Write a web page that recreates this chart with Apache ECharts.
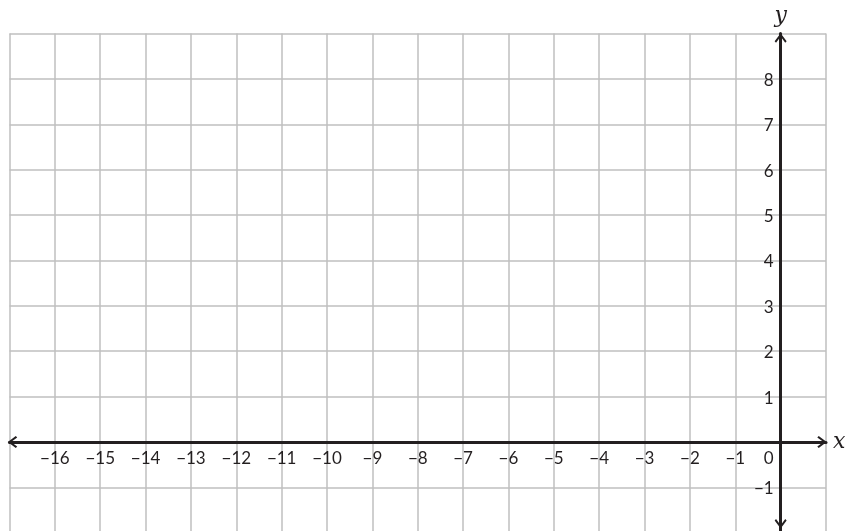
<!DOCTYPE html>
<html>
<head>
<meta charset="utf-8">
<script src="https://cdn.jsdelivr.net/npm/echarts@6/dist/echarts.min.js"></script>
<style>
  html, body { margin: 0; padding: 0; background: #fff; }
  #main { width: 849px; height: 531px; }
</style>
</head>
<body>
<div id="main"></div>
<script>
    // axis ranges (grid squares of one unit)
    const xRange = [-17, 1];
    const yRange = [-2, 9];

    // tick labels that are printed on the picture
    const xTickLabels = [-16, -15, -14, -13, -12, -11, -10, -9, -8, -7, -6, -5, -4, -3, -2, -1, 0];
    const yTickLabels = [-1, 1, 2, 3, 4, 5, 6, 7, 8];

    const ink = '#231f20';
    const gridColor = '#bfbfbf';
    const minus = v => (v < 0 ? '\u2212' + Math.abs(v) : String(v));

    // grid box in pixels
    const gridLeft = 9.5, gridTop = 33.5, gridW = 816.5, gridH = 499.3;
    const unitX = gridW / (xRange[1] - xRange[0]);
    const unitY = gridH / (yRange[1] - yRange[0]);

    // open chevron arrow, tip pointing up
    const chevron = 'path://M6,0 L12,8 L10.6,9.4 L6,3.2 L1.4,9.4 L0,8 Z';

    const chart = echarts.init(document.getElementById('main'));

    const option = {
        animation: false,
        grid: {
            left: gridLeft,
            top: gridTop,
            width: gridW,
            height: gridH,
            outerBoundsMode: 'none',
            containLabel: false
        },
        xAxis: {
            type: 'value',
            min: xRange[0],
            max: xRange[1],
            interval: 1,
            position: 'bottom',
            // move the axis up onto y = 0
            offset: -(0 - yRange[0]) * unitY,
            name: 'x',
            nameLocation: 'end',
            nameGap: 7,
            nameTextStyle: {
                fontFamily: 'DejaVu Serif',
                fontStyle: 'italic',
                fontSize: 22,
                color: ink,
                verticalAlign: 'middle',
                padding: [0, 0, 4, 0]
            },
            axisLine: {
                onZero: false,
                symbol: [chevron, chevron],
                symbolSize: [12, 10],
                symbolOffset: [3, -4],
                lineStyle: { color: ink, width: 3 }
            },
            axisTick: { show: false },
            splitLine: { lineStyle: { color: gridColor, width: 1.5 } },
            axisLabel: {
                margin: 8,
                fontFamily: 'Lato',
                fontSize: 17,
                color: ink,
                formatter: v => {
                    if (!xTickLabels.includes(v)) return '';
                    if (v === 0) return '{z|0}';
                    return minus(v);
                },
                rich: {
                    z: { fontFamily: 'Lato', fontSize: 17, color: ink, padding: [0, 24, 0, 0] }
                }
            }
        },
        yAxis: {
            type: 'value',
            min: yRange[0],
            max: yRange[1],
            interval: 1,
            position: 'left',
            // move the axis right onto x = 0
            offset: -(0 - xRange[0]) * unitX,
            name: 'y',
            nameLocation: 'end',
            nameGap: 6,
            nameTextStyle: {
                fontFamily: 'DejaVu Serif',
                fontStyle: 'italic',
                fontSize: 22,
                color: ink
            },
            axisLine: {
                onZero: false,
                symbol: [chevron, chevron],
                symbolSize: [12, 10],
                symbolOffset: [9, -4.5],
                lineStyle: { color: ink, width: 3 }
            },
            axisTick: { show: false },
            splitLine: { lineStyle: { color: gridColor, width: 1.5 } },
            axisLabel: {
                margin: 7,
                fontFamily: 'Lato',
                fontSize: 17,
                color: ink,
                verticalAlign: 'top',
                padding: [-7, 0, 0, 0],
                formatter: v => (yTickLabels.includes(v) ? minus(v) : '')
            }
        },
        series: [{
            type: 'scatter',
            data: []
        }]
    };

    chart.setOption(option);
</script>
</body>
</html>
